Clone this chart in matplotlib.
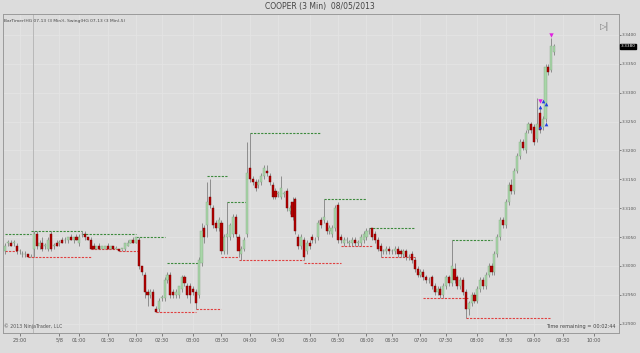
# NinjaTrader style 3 min copper chart
import numpy as np
import matplotlib
matplotlib.use('Agg')
import matplotlib.pyplot as plt

opens = [3.3025, 3.3040, 3.3040, 3.3040, 3.3035, 3.3025, 3.3020, 3.3020, 3.3020, 3.3015,
         3.3030, 3.3055, 3.3035, 3.3040, 3.3035, 3.3030, 3.3055, 3.3035, 3.3040, 3.3040,
         3.3045, 3.3045, 3.3045, 3.3050, 3.3045, 3.3050, 3.3040, 3.3055, 3.3055, 3.3050,
         3.3045, 3.3035, 3.3030, 3.3035, 3.3030, 3.3030, 3.3035, 3.3030, 3.3035, 3.3030,
         3.3030, 3.3030, 3.3030, 3.3035, 3.3040, 3.3045, 3.3040, 3.3045, 3.3000, 3.2985,
         3.2955, 3.2950, 3.2955, 3.2925, 3.2925, 3.2945, 3.2945, 3.2975, 3.2985, 3.2955,
         3.2950, 3.2950, 3.2960, 3.2980, 3.2965, 3.2965, 3.2960, 3.2955, 3.2950, 3.3005,
         3.3065, 3.3070, 3.3120, 3.3100, 3.3075, 3.3065, 3.3075, 3.3025, 3.3050, 3.3050,
         3.3055, 3.3085, 3.3050, 3.3020, 3.3030, 3.3055, 3.3170, 3.3150, 3.3145, 3.3140,
         3.3145, 3.3155, 3.3165, 3.3155, 3.3140, 3.3130, 3.3125, 3.3120, 3.3125, 3.3130,
         3.3095, 3.3110, 3.3115, 3.3050, 3.3035, 3.3045, 3.3025, 3.3040, 3.3050, 3.3045,
         3.3050, 3.3080, 3.3080, 3.3075, 3.3060, 3.3055, 3.3065, 3.3105, 3.3050, 3.3040,
         3.3045, 3.3040, 3.3040, 3.3045, 3.3040, 3.3040, 3.3045, 3.3050, 3.3060, 3.3065,
         3.3055, 3.3045, 3.3035, 3.3025, 3.3025, 3.3030, 3.3025, 3.3025, 3.3030, 3.3025,
         3.3020, 3.3025, 3.3015, 3.3020, 3.3010, 3.2995, 3.2985, 3.2990, 3.2980, 3.2975,
         3.2980, 3.2965, 3.2955, 3.2960, 3.2950, 3.2965, 3.2980, 3.2970, 3.2995, 3.2980,
         3.2965, 3.2975, 3.2955, 3.2925, 3.2935, 3.2950, 3.2940, 3.2960, 3.2975, 3.2965,
         3.2985, 3.3000, 3.2990, 3.3020, 3.3050, 3.3080, 3.3070, 3.3110, 3.3140, 3.3130,
         3.3165, 3.3190, 3.3215, 3.3200, 3.3235, 3.3245, 3.3240, 3.3220, 3.3265, 3.3240,
         3.3255, 3.3345, 3.3340, 3.3370]
highs = [3.3040, 3.3045, 3.3045, 3.3045, 3.3040, 3.3030, 3.3025, 3.3025, 3.3020, 3.3020,
         3.3060, 3.3060, 3.3045, 3.3050, 3.3040, 3.3050, 3.3060, 3.3040, 3.3045, 3.3045,
         3.3050, 3.3050, 3.3050, 3.3055, 3.3050, 3.3055, 3.3055, 3.3060, 3.3060, 3.3050,
         3.3050, 3.3040, 3.3035, 3.3040, 3.3035, 3.3035, 3.3040, 3.3035, 3.3035, 3.3035,
         3.3030, 3.3030, 3.3040, 3.3045, 3.3045, 3.3050, 3.3050, 3.3050, 3.3000, 3.2990,
         3.2960, 3.2960, 3.2960, 3.2930, 3.2945, 3.2950, 3.2980, 3.2990, 3.2990, 3.2960,
         3.2960, 3.2965, 3.2985, 3.2985, 3.2970, 3.2970, 3.2965, 3.2960, 3.3015, 3.3075,
         3.3070, 3.3145, 3.3150, 3.3105, 3.3080, 3.3085, 3.3080, 3.3055, 3.3110, 3.3075,
         3.3090, 3.3090, 3.3055, 3.3035, 3.3050, 3.3215, 3.3230, 3.3155, 3.3150, 3.3150,
         3.3160, 3.3175, 3.3175, 3.3160, 3.3145, 3.3135, 3.3130, 3.3155, 3.3130, 3.3135,
         3.3105, 3.3120, 3.3120, 3.3055, 3.3055, 3.3050, 3.3045, 3.3045, 3.3055, 3.3050,
         3.3080, 3.3085, 3.3115, 3.3080, 3.3070, 3.3070, 3.3105, 3.3110, 3.3055, 3.3050,
         3.3050, 3.3045, 3.3050, 3.3050, 3.3045, 3.3055, 3.3060, 3.3065, 3.3065, 3.3065,
         3.3060, 3.3050, 3.3040, 3.3030, 3.3035, 3.3035, 3.3030, 3.3035, 3.3035, 3.3030,
         3.3030, 3.3030, 3.3020, 3.3025, 3.3015, 3.3000, 3.2995, 3.2995, 3.2985, 3.2980,
         3.2985, 3.2970, 3.2965, 3.2965, 3.2970, 3.2985, 3.2985, 3.3045, 3.3005, 3.2985,
         3.2980, 3.2980, 3.2960, 3.2940, 3.2955, 3.2955, 3.2965, 3.2980, 3.2980, 3.2990,
         3.3005, 3.3005, 3.3025, 3.3055, 3.3085, 3.3085, 3.3115, 3.3145, 3.3150, 3.3170,
         3.3195, 3.3220, 3.3220, 3.3235, 3.3250, 3.3250, 3.3245, 3.3290, 3.3275, 3.3260,
         3.3350, 3.3350, 3.3395, 3.3385]
lows = [3.3020, 3.3035, 3.3035, 3.3035, 3.3020, 3.3020, 3.3015, 3.3015, 3.3015, 3.3015,
        3.3015, 3.3030, 3.3030, 3.3025, 3.3030, 3.3025, 3.3025, 3.3030, 3.3035, 3.3035,
        3.3040, 3.3040, 3.3040, 3.3045, 3.3040, 3.3045, 3.3035, 3.3050, 3.3045, 3.3045,
        3.3030, 3.3030, 3.3030, 3.3030, 3.3030, 3.3030, 3.3030, 3.3030, 3.3030, 3.3030,
        3.3025, 3.3025, 3.3025, 3.3035, 3.3040, 3.3040, 3.3040, 3.2995, 3.2985, 3.2945,
        3.2930, 3.2945, 3.2930, 3.2920, 3.2920, 3.2940, 3.2940, 3.2970, 3.2945, 3.2945,
        3.2945, 3.2945, 3.2955, 3.2965, 3.2945, 3.2935, 3.2950, 3.2925, 3.2945, 3.3000,
        3.3040, 3.3050, 3.3100, 3.3065, 3.3060, 3.3060, 3.3020, 3.3020, 3.3020, 3.3045,
        3.3050, 3.3050, 3.3015, 3.3010, 3.3025, 3.3050, 3.3145, 3.3140, 3.3130, 3.3135,
        3.3140, 3.3150, 3.3155, 3.3140, 3.3115, 3.3115, 3.3120, 3.3115, 3.3120, 3.3095,
        3.3090, 3.3080, 3.3055, 3.3030, 3.3030, 3.3010, 3.3020, 3.3030, 3.3040, 3.3040,
        3.3045, 3.3065, 3.3075, 3.3055, 3.3055, 3.3050, 3.3060, 3.3040, 3.3040, 3.3035,
        3.3040, 3.3035, 3.3035, 3.3035, 3.3035, 3.3035, 3.3040, 3.3045, 3.3055, 3.3045,
        3.3040, 3.3025, 3.3015, 3.3020, 3.3020, 3.3020, 3.3020, 3.3020, 3.3015, 3.3015,
        3.3015, 3.3010, 3.3010, 3.3005, 3.2990, 3.2980, 3.2980, 3.2975, 3.2970, 3.2970,
        3.2960, 3.2950, 3.2950, 3.2945, 3.2945, 3.2960, 3.2965, 3.2965, 3.2970, 3.2960,
        3.2960, 3.2950, 3.2910, 3.2915, 3.2930, 3.2935, 3.2935, 3.2955, 3.2960, 3.2960,
        3.2980, 3.2985, 3.2985, 3.3015, 3.3045, 3.3065, 3.3065, 3.3105, 3.3125, 3.3125,
        3.3160, 3.3185, 3.3200, 3.3195, 3.3230, 3.3230, 3.3210, 3.3215, 3.3230, 3.3235,
        3.3250, 3.3330, 3.3335, 3.3365]
closes = [3.3035, 3.3040, 3.3035, 3.3040, 3.3025, 3.3025, 3.3020, 3.3020, 3.3015, 3.3015,
          3.3055, 3.3035, 3.3040, 3.3030, 3.3035, 3.3045, 3.3030, 3.3035, 3.3035, 3.3040,
          3.3040, 3.3045, 3.3050, 3.3045, 3.3050, 3.3045, 3.3050, 3.3055, 3.3050, 3.3045,
          3.3030, 3.3030, 3.3035, 3.3030, 3.3035, 3.3035, 3.3030, 3.3035, 3.3030, 3.3030,
          3.3025, 3.3030, 3.3040, 3.3040, 3.3045, 3.3040, 3.3050, 3.3000, 3.2990, 3.2955,
          3.2950, 3.2955, 3.2930, 3.2920, 3.2940, 3.2945, 3.2975, 3.2985, 3.2950, 3.2950,
          3.2955, 3.2965, 3.2980, 3.2970, 3.2950, 3.2950, 3.2955, 3.2935, 3.3010, 3.3060,
          3.3050, 3.3110, 3.3105, 3.3070, 3.3065, 3.3080, 3.3025, 3.3050, 3.3055, 3.3070,
          3.3085, 3.3055, 3.3025, 3.3030, 3.3045, 3.3160, 3.3150, 3.3145, 3.3135, 3.3145,
          3.3155, 3.3170, 3.3160, 3.3145, 3.3120, 3.3120, 3.3125, 3.3135, 3.3125, 3.3100,
          3.3100, 3.3085, 3.3060, 3.3035, 3.3050, 3.3015, 3.3040, 3.3035, 3.3045, 3.3045,
          3.3075, 3.3070, 3.3085, 3.3060, 3.3065, 3.3065, 3.3100, 3.3045, 3.3045, 3.3045,
          3.3045, 3.3040, 3.3045, 3.3040, 3.3040, 3.3050, 3.3055, 3.3060, 3.3060, 3.3050,
          3.3045, 3.3030, 3.3025, 3.3025, 3.3030, 3.3025, 3.3025, 3.3030, 3.3020, 3.3020,
          3.3025, 3.3015, 3.3015, 3.3010, 3.2995, 3.2985, 3.2990, 3.2980, 3.2975, 3.2975,
          3.2965, 3.2955, 3.2960, 3.2950, 3.2965, 3.2980, 3.2970, 3.3000, 3.2975, 3.2965,
          3.2975, 3.2955, 3.2925, 3.2935, 3.2950, 3.2940, 3.2960, 3.2975, 3.2965, 3.2985,
          3.3000, 3.2990, 3.3020, 3.3050, 3.3080, 3.3070, 3.3110, 3.3140, 3.3130, 3.3165,
          3.3190, 3.3215, 3.3205, 3.3230, 3.3245, 3.3235, 3.3215, 3.3245, 3.3235, 3.3255,
          3.3345, 3.3335, 3.3380, 3.3380]

# swing lines: (price, first bar, last bar)
swing_high = [(3.3055, 0, 9), (3.3060, 9, 27), (3.3055, 27, 46), (3.3050, 46, 56),
              (3.3005, 57, 68), (3.3155, 71, 78), (3.3110, 78, 85), (3.3230, 86, 111),
              (3.3115, 112, 127), (3.3065, 128, 144), (3.3045, 157, 171)]
swing_low = [(3.3025, 0, 4), (3.3015, 8, 30), (3.3030, 30, 40), (3.3025, 40, 47),
             (3.2920, 53, 67), (3.2925, 67, 76), (3.3015, 76, 82), (3.3010, 82, 105),
             (3.3005, 105, 118), (3.3035, 118, 129), (3.3015, 132, 144),
             (3.2945, 147, 163), (3.2910, 162, 192)]

# arrows near the last bars
pink_bar = [192, 188]
pink_price = [3.3400, 3.3285]
blue_bar = [189, 190, 188, 190, 188]
blue_price = [3.3285, 3.3280, 3.3275, 3.3245, 3.3240]

tick_bars = [5, 19, 26, 36, 46, 55, 66, 76, 86, 96, 107, 117, 127, 136, 146, 155,
             166, 176, 186, 196, 207]
tick_labels = ['23:00', '5/8', '01:00', '01:30', '02:00', '02:30', '03:00', '03:30',
               '04:00', '04:30', '05:00', '05:30', '06:00', '06:30', '07:00', '07:30',
               '08:00', '08:30', '09:00', '09:30', '10:00']
price_ticks = [3.2900, 3.2950, 3.3000, 3.3050, 3.3100, 3.3150, 3.3200, 3.3250,
               3.3300, 3.3350, 3.3400]

bg = '#dcdcdc'
fig = plt.figure(figsize=(6.4, 3.53), dpi=100, facecolor=bg)
ax = fig.add_axes([0.004, 0.057, 0.963, 0.903], facecolor=bg)

o = np.array(opens); h = np.array(highs); l = np.array(lows); c = np.array(closes)
x = np.arange(len(o))
up = c >= o

# faint grid
for t in tick_bars:
    ax.axvline(t, color='#e4e4e4', lw=0.6, zorder=0)
for p in price_ticks:
    ax.axhline(p, color='#e4e4e4', lw=0.6, zorder=0)
ax.axvline(9.8, color='#b8b8b8', lw=0.7, zorder=0)

for lvl, a, b in swing_high:
    ax.hlines(lvl, a, b, colors='#3c8a3c', linestyles=(0, (2, 1.2)), lw=0.8, zorder=2)
for lvl, a, b in swing_low:
    ax.hlines(lvl, a, b, colors='#e04040', linestyles=(0, (2, 1.2)), lw=0.8, zorder=2)

ax.vlines(x, l, h, color='#808080', lw=0.6, zorder=3)
body = np.maximum(np.abs(c - o), 0.00006)
bottom = np.minimum(o, c)
ax.bar(x[up], body[up], 0.75, bottom[up], color='#a8d6a8', edgecolor='#86a886',
       lw=0.3, zorder=4)
ax.bar(x[~up], body[~up], 0.75, bottom[~up], color='#b40000', edgecolor='#700000',
       lw=0.3, zorder=4)

ax.scatter(pink_bar, pink_price, marker='v', s=10, color='#e020e0', zorder=5, lw=0)
ax.scatter(blue_bar, blue_price, marker='^', s=7, color='#2040e0', zorder=5, lw=0)

ax.set_xlim(-1, 215.8)
ax.set_ylim(3.2884, 3.3436)
ax.set_xticks(tick_bars)
ax.set_xticklabels(tick_labels)
ax.yaxis.tick_right()
ax.set_yticks(price_ticks)
ax.set_yticklabels(['%.4f' % p for p in price_ticks])
ax.tick_params(labelsize=3.6, colors='#555555', length=2, width=0.5, pad=1.5)
ax.tick_params(axis='y', labelsize=3.1, length=1.5, pad=0.8)
for s in ax.spines.values():
    s.set_color('#9a9a9a')
    s.set_linewidth(0.7)

# last price tag
ax.text(1.003, (closes[-1] - 3.2884) / (3.3436 - 3.2884), '%.4f' % closes[-1],
        transform=ax.transAxes, fontsize=3.1, color='white', va='center', ha='left',
        bbox=dict(boxstyle='square,pad=0.15', fc='black', ec='black'))

fig.text(0.5, 0.982, 'COOPER (3 Min)  08/05/2013', ha='center', va='center',
         fontsize=5.5, color='#444444')
ax.text(0.002, 0.985, 'BarTimer(HG 07-13 (3 Min)), Swing(HG 07-13 (3 Min),5)',
        transform=ax.transAxes, fontsize=3.2, color='#444444', va='top')
ax.text(0.002, 0.012, '\u00a9 2013 NinjaTrader, LLC', transform=ax.transAxes,
        fontsize=3.4, color='#555555', va='bottom')
ax.text(0.995, 0.012, 'Time remaining = 00:02:44', transform=ax.transAxes,
        fontsize=3.6, color='#444444', va='bottom', ha='right')
ax.text(0.985, 0.975, '\u25b7|', transform=ax.transAxes, fontsize=6,
        color='#777777', va='top', ha='right')

fig.savefig('out.png', dpi=100, facecolor=bg)
